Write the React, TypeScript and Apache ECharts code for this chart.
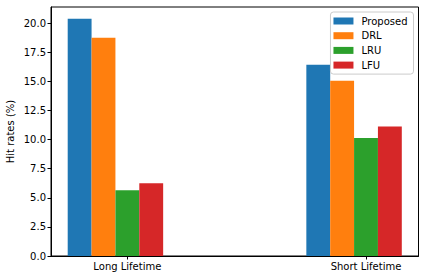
import React, { useEffect, useRef } from "react";
import * as echarts from "echarts";

const categories = ["Long Lifetime", "Short Lifetime"];
const seriesNames = ["Proposed", "DRL", "LRU", "LFU"];
const proposed = [20.37, 16.43];
const drl = [18.74, 15.06];
const lru = [5.65, 10.13];
const lfu = [6.25, 11.13];
const yTicks = [0, 2.5, 5, 7.5, 10, 12.5, 15, 17.5, 20];
const colors = ["#1f77b4", "#ff7f0e", "#2ca02c", "#d62728"];

const BAR_W = 0.1;
const FONT = "DejaVu Sans";

export default function App() {
  const ref = useRef<HTMLDivElement>(null);
  useEffect(() => {
    if (!ref.current) return;
    const chart = echarts.init(ref.current, null, { renderer: "svg" });
    const allSeries = [proposed, drl, lru, lfu];
    const tickPos = categories.map((_, g) => g + 2 * BAR_W);
    const series = allSeries.map((vals, i) => ({
      type: "custom",
      name: seriesNames[i],
      itemStyle: { color: colors[i] },
      data: vals.map((v, g) => [g + i * BAR_W, v]),
      renderItem: (params: any, api: any) => {
        const x = api.value(0);
        const y = api.value(1);
        const p0 = api.coord([x - BAR_W / 2, y]);
        const p1 = api.coord([x + BAR_W / 2, 0]);
        return {
          type: "rect",
          shape: { x: p0[0], y: p0[1], width: p1[0] - p0[0], height: p1[1] - p0[1] },
          style: { fill: colors[i] },
        };
      },
    }));
    chart.setOption({
      animation: false,
      textStyle: { fontFamily: FONT },
      grid: {
        left: 51,
        right: 5.5,
        top: 7,
        bottom: 24,
        outerBoundsMode: "none",
        containLabel: false,
        show: true,
        borderColor: "#000",
        borderWidth: 1,
        backgroundColor: "transparent",
      },
      legend: {
        orient: "vertical",
        right: 10.5,
        top: 12,
        data: seriesNames.map((n) => ({ name: n, icon: "rect" })),
        itemWidth: 20,
        itemHeight: 7,
        itemGap: 2.7,
        padding: [3, 6, 3, 3],
        backgroundColor: "#fff",
        borderColor: "#cccccc",
        borderWidth: 1,
        borderRadius: 3,
        textStyle: {
          fontFamily: FONT,
          fontSize: 10,
          color: "#000",
          lineHeight: 12,
          padding: [0, 0, 0, 3],
        },
      },
      xAxis: {
        type: "value",
        min: -0.12,
        max: 1.42,
        splitLine: { show: false },
        axisLine: { show: true, onZero: false, lineStyle: { color: "#000", width: 1 } },
        axisTick: {
          show: true,
          customValues: tickPos,
          length: 3.5,
          lineStyle: { color: "#000", width: 1 },
        },
        axisLabel: {
          customValues: tickPos,
          formatter: (v: number) => {
            const idx = tickPos.findIndex((t) => Math.abs(t - v) < 1e-6);
            return idx >= 0 ? categories[idx] : "";
          },
          fontFamily: FONT,
          fontSize: 10,
          color: "#000",
          margin: 5,
        },
      },
      yAxis: {
        type: "value",
        min: 0,
        max: 21.39,
        name: "Hit rates (%)",
        nameLocation: "middle",
        nameGap: 36,
        nameMoveOverlap: false,
        nameTextStyle: { fontFamily: FONT, fontSize: 10, color: "#000" },
        splitLine: { show: false },
        axisLine: { show: true, onZero: false, lineStyle: { color: "#000", width: 1 } },
        axisTick: {
          show: true,
          customValues: yTicks,
          length: 3.5,
          lineStyle: { color: "#000", width: 1 },
        },
        axisLabel: {
          customValues: yTicks,
          formatter: (v: number) => v.toFixed(1),
          fontFamily: FONT,
          fontSize: 10,
          color: "#000",
          margin: 5,
        },
      },
      series,
    });
    return () => chart.dispose();
  }, []);
  return (
    <div
      ref={ref}
      style={{ position: "fixed", left: 0, top: 0, width: 424, height: 280, background: "#fff" }}
    />
  );
}
